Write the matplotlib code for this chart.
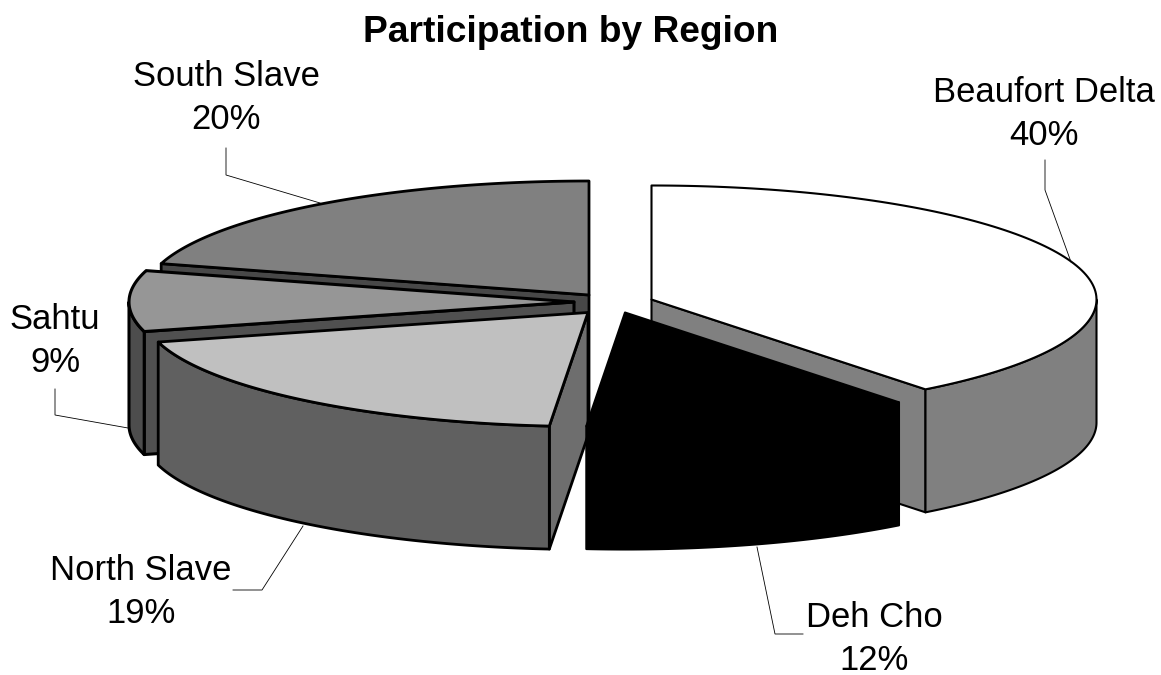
import numpy as np
import matplotlib
matplotlib.use("Agg")
import matplotlib.pyplot as plt

# Data
regions = ["Beaufort Delta", "Deh Cho", "North Slave", "Sahtu", "South Slave"]
shares = [39.44, 11.94, 19.44, 8.61, 20.56]       # slice sizes
share_labels = ["40%", "12%", "19%", "9%", "20%"]  # printed labels

# Styles
top_colors = ["#ffffff", "#000000", "#c0c0c0", "#969696", "#808080"]
rim_colors = ["#808080", "#000000", "#606060", "#4d4d4d", "#404040"]
cut_colors = ["#808080", "#000000", "#6e6e6e", "#505050", "#484848"]
line_widths = [1.5, 1.5, 2.0, 2.2, 2.0]
apex_x = [651.5, 625, 588, 574, 589]
apex_y = [299.5, 312.5, 312.5, 302, 295]
label_xy = [(1044, 114), (874, 639), (141, 592), (55, 341), (226, 98)]
leaders = [
    [(1045, 160), (1045, 190), (1071, 262)],
    [(803, 634), (775, 634), (757, 547)],
    [(233, 590), (262, 590), (303, 526)],
    [(55, 389), (55, 415), (128, 428)],
    [(226, 148), (226, 175), (320, 203)],
]
draw_order = [4, 3, 2, 0, 1]
RX, RY, DEPTH = 445, 114, 123

plt.rcParams['font.family'] = ['Liberation Sans', 'DejaVu Sans']
fig = plt.figure(figsize=(11.61, 6.75), dpi=100, facecolor="white")
ax = fig.add_axes([0, 0, 1, 1])
ax.set_xlim(0, 1161)
ax.set_ylim(675, 0)
ax.axis("off")

edges = np.concatenate([[0], np.cumsum(shares)]) / np.sum(shares) * 360


def rim(cx, cy, a, b, n=120):
    t = np.radians(np.linspace(a, b, n))
    return cx + RX * np.sin(t), cy - RY * np.cos(t)


for i in draw_order:
    a, b = edges[i], edges[i + 1]
    cx, cy = apex_x[i], apex_y[i]
    kw = dict(edgecolor="black", linewidth=line_widths[i], joinstyle="round")

    # radial cut faces that look toward the viewer
    for ang, visible in ((a, np.sin(np.radians(a)) < -1e-6),
                         (b, np.sin(np.radians(b)) > 1e-6)):
        if visible:
            ex, ey = rim(cx, cy, ang, ang, 1)
            ax.fill([cx, ex[0], ex[0], cx],
                    [cy, ey[0], ey[0] + DEPTH, cy + DEPTH],
                    facecolor=cut_colors[i], **kw)

    # outer wall, front half only
    lo, hi = max(a, 90), min(b, 270)
    if lo < hi:
        x, y = rim(cx, cy, lo, hi)
        ax.fill(np.r_[x, x[::-1]], np.r_[y, y[::-1] + DEPTH],
                facecolor=rim_colors[i], **kw)

    # top face
    x, y = rim(cx, cy, a, b)
    ax.fill(np.r_[cx, x], np.r_[cy, y], facecolor=top_colors[i], **kw)

for pts in leaders:
    xs, ys = zip(*pts)
    ax.plot(xs, ys, color="black", lw=0.6, solid_joinstyle="miter")

for name, pct, (lx, ly) in zip(regions, share_labels, label_xy):
    ax.text(lx, ly, name + "\n" + pct, ha="center", va="center",
            fontsize=24.9, linespacing=1.4, color="black")

ax.text(571, 33, "Participation by Region", ha="center", va="center",
        fontsize=26.7, fontweight="bold", color="black")

fig.savefig("out.png", dpi=100, facecolor="white")
